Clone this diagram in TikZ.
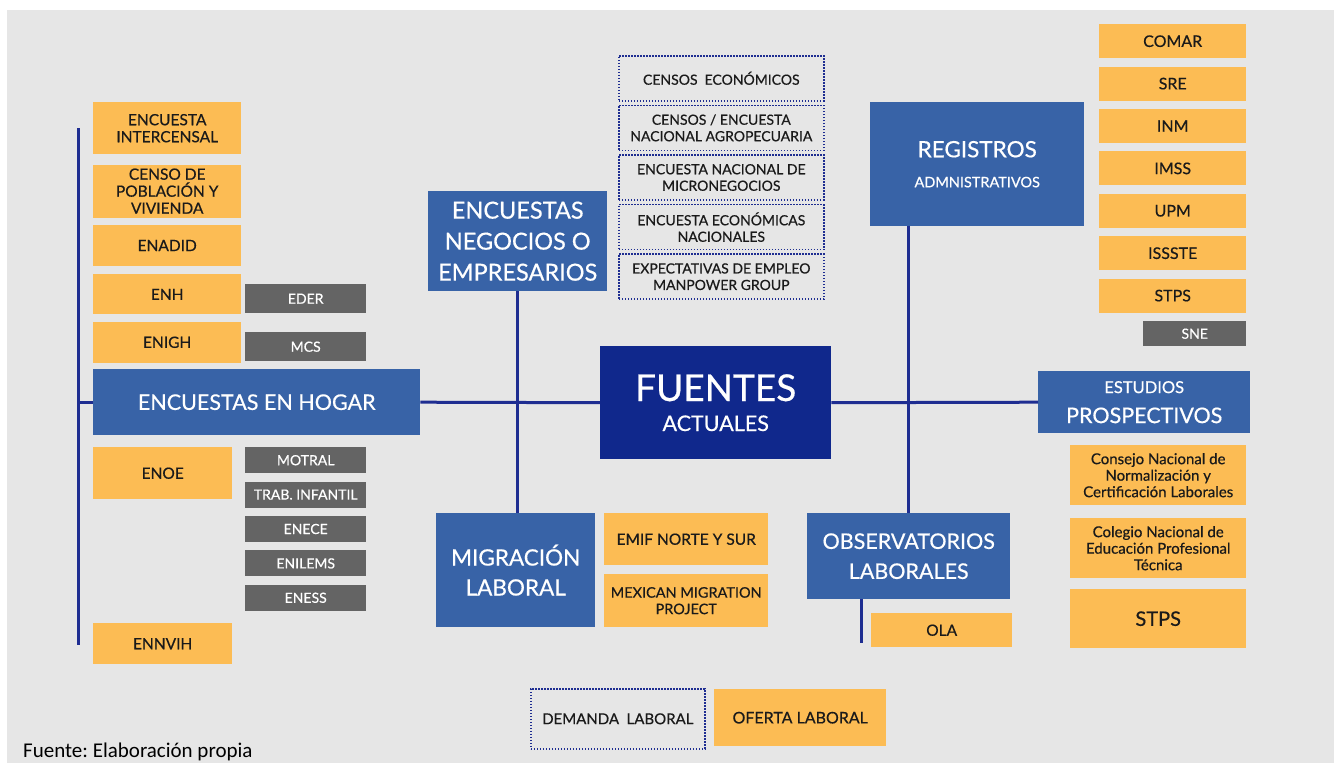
\documentclass[tikz,border=0pt]{standalone}
\usepackage{fontspec}
\setmainfont{Lato}[UprightFeatures={FakeBold=0.5}]
\newfontfamily\notefont{Carlito}
\usetikzlibrary{positioning}
\definecolor{bgC}{RGB}{230,230,230}
\definecolor{orangeC}{RGB}{252,188,84}
\definecolor{blueC}{RGB}{56,99,167}
\definecolor{darkC}{RGB}{16,40,140}
\definecolor{grayC}{RGB}{100,100,100}
\definecolor{navyC}{RGB}{30,45,145}
\definecolor{inkC}{RGB}{26,26,26}
\frenchspacing

\begin{document}
\begin{tikzpicture}[x=1pt, y=-1pt,
        node distance=8pt,
        obox/.style={fill=orangeC, text=inkC, align=center, inner sep=0pt, anchor=north west, font=\fontsize{15.5}{17}\selectfont},
        gbox/.style={fill=grayC, text=white, align=center, inner sep=0pt, anchor=north west, minimum width=121pt, minimum height=26pt, font=\fontsize{14}{16}\selectfont},
        bbox/.style={fill=blueC, text=white, align=center, inner sep=0pt, anchor=north west, font=\fontsize{21.5}{30}\selectfont},
        dbox/.style={draw=navyC, line width=1.6pt, dash pattern=on 1.6pt off 1.4pt, text=inkC, align=center, inner sep=0pt, anchor=north west, minimum width=205pt, minimum height=45pt, font=\fontsize{14}{16.5}\selectfont},
        link/.style={draw=navyC, line width=3pt}]
        \useasboundingbox (0,0) rectangle (1334,763);
        \fill[white] (0,0) rectangle (1334,763);
        \fill[bgC] (7,10) rectangle (1334,763);
        % hogar
        \node[obox, minimum width=148pt, minimum height=52pt] (intercensal) at (93,102) {ENCUESTA\\INTERCENSAL};
        \node[obox, minimum width=148pt, minimum height=53pt, below=10pt of intercensal] (censo) {CENSO DE\\POBLACIÓN Y\\VIVIENDA};
        \node[obox, minimum width=148pt, minimum height=41pt, below=7pt of censo] (enadid) {ENADID};
        \node[obox, minimum width=148pt, minimum height=40pt, below=8pt of enadid] (enh) {ENH};
        \node[obox, minimum width=148pt, minimum height=41pt, below=7pt of enh] (enigh) {ENIGH};
        \node[gbox, minimum height=29pt] (eder) at (245,284) {EDER};
        \node[gbox, minimum height=29pt] (mcs) at (245,332) {MCS};
        \node[bbox, minimum width=327pt, minimum height=66pt] (hogar) at (93,369) {ENCUESTAS EN HOGAR};
        \node[obox, minimum width=139pt, minimum height=52pt] (enoe) at (93,447) {ENOE};
        \node[gbox] (motral) at (245,447) {MOTRAL};
        \node[gbox, below=of motral] (trab) {TRAB. INFANTIL};
        \node[gbox, below=of trab] (enece) {ENECE};
        \node[gbox, below=of enece] (enilems) {ENILEMS};
        \node[gbox, below=of enilems] (eness) {ENESS};
        \node[obox, minimum width=139pt, minimum height=41pt] (ennvih) at (93,623) {ENNVIH};
        % negocios
        \node[bbox, minimum width=179pt, minimum height=100pt, font=\fontsize{23.5}{31}\selectfont] (negocios) at (428,191) {ENCUESTAS\\NEGOCIOS O\\EMPRESARIOS};
        \node[dbox] (censos) at (618,55) {CENSOS\enspace ECONÓMICOS};
        \node[dbox, below=3pt of censos] (agro) {CENSOS / ENCUESTA\\NACIONAL AGROPECUARIA};
        \node[dbox, below=3pt of agro] (micro) {ENCUESTA NACIONAL DE\\MICRONEGOCIOS};
        \node[dbox, below=3pt of micro] (econ) {ENCUESTA ECONÓMICAS\\NACIONALES};
        \node[dbox, below=3pt of econ] (manpower) {EXPECTATIVAS DE EMPLEO\\MANPOWER GROUP};
        % centro
        \node[bbox, fill=darkC, minimum width=231pt, minimum height=113pt] (fuentes) at (600,346) {{\fontsize{37}{41}\selectfont FUENTES}\\{\fontsize{21.5}{25}\selectfont ACTUALES}};
        % migracion
        \node[bbox, minimum width=159pt, minimum height=114pt, font=\fontsize{22.5}{30}\selectfont] (migracion) at (436,513) {MIGRACIÓN\\LABORAL};
        \node[obox, minimum width=164pt, minimum height=52pt] (emif) at (604,513) {EMIF NORTE Y SUR};
        \node[obox, minimum width=164pt, minimum height=53pt, font=\fontsize{14.5}{16.5}\selectfont] (mmp) at (604,574) {MEXICAN MIGRATION\\PROJECT};
        % observatorios
        \node[bbox, minimum width=203pt, minimum height=86pt] (observatorios) at (807,513) {OBSERVATORIOS\\LABORALES};
        \node[obox, minimum width=141pt, minimum height=34pt] (ola) at (871,613) {OLA};
        % registros
        \node[bbox, minimum width=214pt, minimum height=124pt] (registros) at (870,102) {{\fontsize{22.5}{25}\selectfont REGISTROS}\\{\fontsize{14.5}{17}\selectfont ADMNISTRATIVOS}};
        \node[obox, minimum width=147pt, minimum height=34pt, font=\fontsize{16}{18}\selectfont] (comar) at (1099,24) {COMAR};
        \node[obox, minimum width=147pt, minimum height=34pt, font=\fontsize{16}{18}\selectfont, below=of comar] (sre) {SRE};
        \node[obox, minimum width=147pt, minimum height=34pt, font=\fontsize{16}{18}\selectfont, below=of sre] (inm) {INM};
        \node[obox, minimum width=147pt, minimum height=34pt, font=\fontsize{16}{18}\selectfont, below=of inm] (imss) {IMSS};
        \node[obox, minimum width=147pt, minimum height=34pt, font=\fontsize{16}{18}\selectfont, below=of imss] (upm) {UPM};
        \node[obox, minimum width=147pt, minimum height=34pt, font=\fontsize{16}{18}\selectfont, below=of upm] (issste) {ISSSTE};
        \node[obox, minimum width=147pt, minimum height=34pt, font=\fontsize{16}{18}\selectfont, below=of issste] (stps) {STPS};
        \node[gbox, minimum width=103pt, minimum height=25pt] (sne) at (1143,321) {SNE};
        % estudios
        \node[bbox, minimum width=212pt, minimum height=62pt] (estudios) at (1038,371) {{\fontsize{16.5}{21}\selectfont ESTUDIOS}\\{\fontsize{21.5}{25}\selectfont PROSPECTIVOS}};
        \node[obox, minimum width=176pt, minimum height=60pt, font=\fontsize{15}{16.5}\selectfont] (consejo) at (1070,445) {Consejo Nacional de\\Normalización y\\Certificación Laborales};
        \node[obox, minimum width=176pt, minimum height=60pt, font=\fontsize{15}{16.5}\selectfont] (colegio) at (1070,518) {Colegio Nacional de\\Educación Profesional\\Técnica};
        \node[obox, minimum width=176pt, minimum height=59pt, font=\fontsize{20}{22}\selectfont] (stpsb) at (1070,589) {STPS};
        % leyenda
        \node[dbox, minimum width=174pt, minimum height=60pt, font=\fontsize{15}{17}\selectfont] (demanda) at (530,688) {DEMANDA\enspace LABORAL};
        \node[obox, minimum width=172pt, minimum height=57pt, font=\fontsize{16}{18}\selectfont] (oferta) at (714,689) {OFERTA LABORAL};
        \node[anchor=base west, inner sep=0pt, font=\notefont\fontsize{21}{23}\selectfont] (fuente) at (23,757) {Fuente: Elaboración propia};
        % lineas
        \coordinate (lt) at (78,128);
        \coordinate (lb) at (78,645);
        \coordinate (olaend) at (861,643);
        \draw[link] (lt) -- (lb);
        \draw[link] (lt |- hogar.west) -- (hogar.west);
        \draw[link] (hogar.east) -- (fuentes.west);
        \draw[link] (negocios.south) -- (negocios.south |- migracion.north);
        \draw[link] (fuentes.east) -- (estudios.west);
        \draw[link] ([xshift=38pt]registros.south west) -- ([xshift=38pt]registros.south west |- observatorios.north);
        \draw[link] (olaend |- observatorios.south) -- (olaend);
    \end{tikzpicture}
\end{document}
